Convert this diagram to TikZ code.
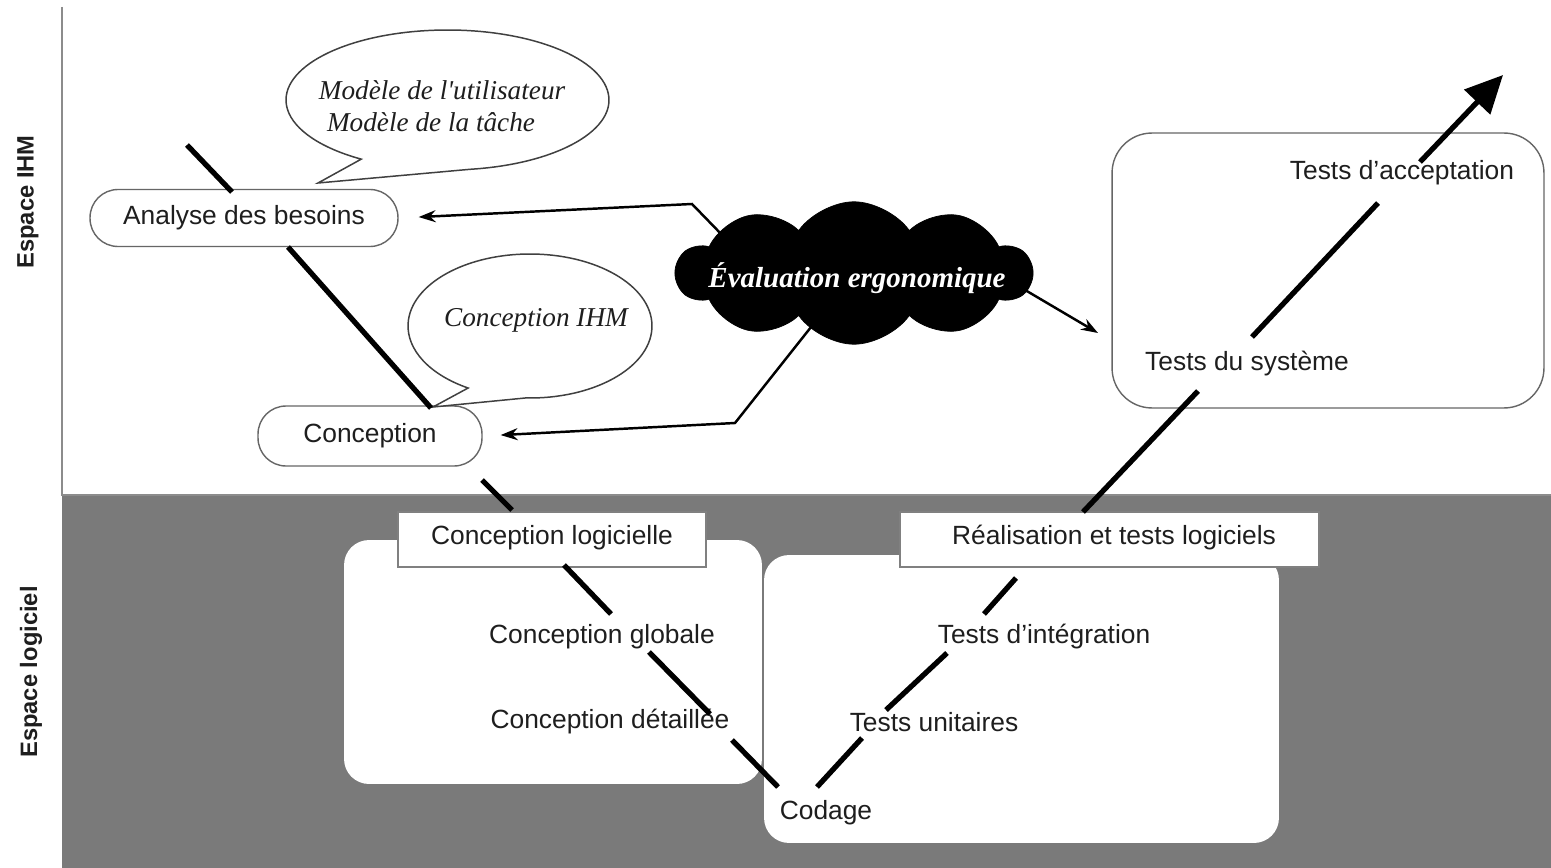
\documentclass[tikz,border=0pt]{standalone}
\usepackage{fontspec}
\setmainfont{Liberation Sans}
\newfontfamily\bubfont{Liberation Serif}
\usetikzlibrary{arrows.meta,shapes.symbols}
\definecolor{bggrey}{RGB}{122,122,122}
\definecolor{txt}{RGB}{30,30,30}
\begin{document}
\begin{tikzpicture}[x=0.02cm,y=-0.02cm,
  vseg/.style={line width=3pt, black},
  pill/.style={draw=black!60, line width=0.8pt, fill=white, rounded corners=0.56cm, inner sep=0pt},
  sqbox/.style={draw=black!50, line width=0.8pt, fill=white, inner sep=0pt},
  softbox/.style={fill=white, rounded corners=0.5cm, inner sep=0pt},
  lbl/.style={font=\fontsize{15}{18}\selectfont, text=txt, inner sep=0pt},
  bubtxt/.style={font=\bubfont\itshape\fontsize{15.5}{19}\selectfont, text=txt, inner sep=0pt},
  bubble/.style={draw=black!75, line width=0.85pt, fill=white},
  evarr/.style={line width=1.4pt, -{Stealth[length=0.34cm, width=0.24cm]}},
  side/.style={rotate=90, font=\bfseries\fontsize{13.5}{16}\selectfont, text=txt, inner sep=0pt}]
\useasboundingbox (0,0) rectangle (1551,868);
\fill[white] (0,0) rectangle (1551,868);
% regions
\fill[bggrey] (62,495) rectangle (1551,868);
\draw[black!45, line width=0.7pt] (62,7) -- (62,495) -- (1551,495);
\node[side] (sihm) at (28,202) {Espace IHM};
\node[side] (slog) at (31,672) {Espace logiciel};

% upper boxes
\node[pill, minimum width=6.16cm, minimum height=1.14cm] (ana) at (244,218) {};
\node[pill, minimum width=4.48cm, minimum height=1.2cm] (con) at (370,436) {};
\node[draw=black!60, line width=0.8pt, rounded corners=0.8cm, minimum width=8.64cm, minimum height=5.5cm] (sysbox) at (1328,270.5) {};

% speech bubbles
\coordinate (b1c) at (447.5,100);
\coordinate (b1tip) at (318,183);
\draw[bubble] ([shift={(278:3.23cm and 1.4cm)}]b1c) arc[start angle=278, end angle=597.7, x radius=3.23cm, y radius=1.4cm] -- (b1tip) -- cycle;
\coordinate (b2c) at (530,326);
\coordinate (b2tip) at (433,407);
\draw[bubble] ([shift={(268:2.44cm and 1.44cm)}]b2c) arc[start angle=268, end angle=599.5, x radius=2.44cm, y radius=1.44cm] -- (b2tip) -- cycle;
\node[bubtxt] (m1) at (442,90) {Modèle de l'utilisateur};
\node[bubtxt] (m2) at (431,122) {Modèle de la tâche};
\node[bubtxt] (cihm) at (536,320) {Conception IHM};

% evaluation arrows
\coordinate (k1) at (692,204);
\coordinate (k2) at (735,423);
\coordinate (evtip) at (1098,333);
\coordinate (e1) at (725,238);
\coordinate (e2) at (815,322);
\coordinate (e3) at (1020,287);
\draw[evarr, shorten >=0.4cm] (e1) -- (k1) -- (ana.east);
\draw[evarr, shorten >=0.36cm] (e2) -- (k2) -- (con.east);
\draw[evarr] (e3) -- (evtip);
\node[cloud, cloud puffs=10, cloud puff arc=110, aspect=2.5, fill=black, draw=black, minimum width=7.1cm, minimum height=2.85cm, inner sep=0pt] (eval) at (854,273) {};
\node[font=\bubfont\bfseries\itshape\fontsize{16.5}{19}\selectfont, text=white, inner sep=0pt] (evt) at (857,278) {Évaluation ergonomique};

% lower boxes
\node[softbox, minimum width=8.36cm, minimum height=4.88cm] (lbox) at (553,662) {};
\node[softbox, minimum width=10.3cm, minimum height=5.76cm] (rbox) at (1021.5,699) {};
\node[sqbox, minimum width=6.16cm, minimum height=1.1cm] (clog) at (552,539.5) {};
\node[sqbox, minimum width=8.38cm, minimum height=1.1cm] (rtl) at (1109.5,539.5) {};

% texts
\node[lbl] (tana) at (244,218) {Analyse des besoins};
\node[lbl] (tcon) at (370,436) {Conception};
\node[lbl] (tacc) at (1402,173) {Tests d'acceptation};
\node[lbl] (tsys) at (1247,364) {Tests du système};
\node[lbl] (tclog) at (552,538) {Conception logicielle};
\node[lbl] (trtl) at (1114,538) {Réalisation et tests logiciels};
\node[lbl] (tglob) at (602,637) {Conception globale};
\node[lbl] (tdet) at (610,722) {Conception détaillée};
\node[lbl] (tcod) at (826,813) {Codage};
\node[lbl] (tuni) at (934,722) {Tests unitaires};
\node[lbl] (tint) at (1044,637) {Tests d'intégration};

% V cycle segments
\coordinate (l1a) at (187,145); \coordinate (l1b) at (232,192);
\coordinate (l2a) at (288,247); \coordinate (l2b) at (431,408);
\coordinate (l3a) at (482,480); \coordinate (l3b) at (512,510);
\coordinate (l4a) at (564,565); \coordinate (l4b) at (611,614);
\coordinate (l5a) at (649,652); \coordinate (l5b) at (710,714);
\coordinate (l6a) at (732,740); \coordinate (l6b) at (778,787);
\coordinate (r1a) at (817,787); \coordinate (r1b) at (862,738);
\coordinate (r2a) at (886,710); \coordinate (r2b) at (947,653);
\coordinate (r3a) at (984,614); \coordinate (r3b) at (1016,578);
\coordinate (r4a) at (1083,512); \coordinate (r4b) at (1198,391);
\coordinate (r5a) at (1252,337); \coordinate (r5b) at (1378,203);
\coordinate (r6a) at (1420,162); \coordinate (r6b) at (1503,75);
\foreach \s in {l1,l2,l3,l4,l5,l6,r1,r2,r3,r4,r5}
  \draw[vseg] (\s a) -- (\s b);
\draw[vseg, -{Triangle[length=0.75cm, width=0.7cm]}] (r6a) -- (r6b);
\end{tikzpicture}
\end{document}
